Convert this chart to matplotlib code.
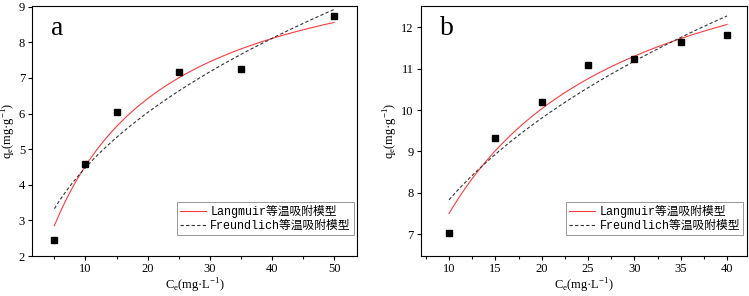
import numpy as np
import matplotlib
matplotlib.use("Agg")
import matplotlib.pyplot as plt
from matplotlib.ticker import MultipleLocator

plt.rcParams['font.family'] = ['Liberation Serif', 'Noto Sans CJK SC']
plt.rcParams['mathtext.fontset'] = 'custom'
plt.rcParams['mathtext.rm'] = 'Liberation Serif'

# panel a: measured points
ce_a = [5, 10, 15, 25, 35, 50]
qe_a = [2.45, 4.57, 6.05, 7.17, 7.25, 8.73]
# panel b: measured points
ce_b = [10, 15, 20, 25, 30, 35, 40]
qe_b = [7.03, 9.33, 10.19, 11.10, 11.24, 11.64, 11.81]

# isotherm parameters (qm, KL) and (Kf, 1/n)
lang_a = (11.0, 0.07)
freu_a = (1.672, 0.428)
lang_b = (15.15, 0.098)
freu_b = (3.709, 0.3245)

labels = ['Langmuir等温吸附模型', 'Freundlich等温吸附模型']

fig = plt.figure(figsize=(7.49, 2.96), dpi=100)
ax1 = fig.add_axes([0.0427, 0.135, 0.434, 0.845])
ax2 = fig.add_axes([0.5617, 0.135, 0.435, 0.845])


def draw(ax, ce, qe, lang, freu, tag, xlim, ylim, xmaj, xmin, ylab_x):
    c = np.linspace(min(ce), max(ce), 200)
    qm, kl = lang
    kf, inv_n = freu
    ax.plot(c, qm * kl * c / (1 + kl * c), color='#ff3c3c', lw=0.8, label=labels[0])
    ax.plot(c, kf * c ** inv_n, color='#333333', lw=0.8, ls=(0, (3, 2)), label=labels[1])
    ax.plot(ce, qe, 's', color='black', ms=5, zorder=3)
    ax.set_xlim(*xlim)
    ax.set_ylim(*ylim)
    ax.xaxis.set_major_locator(MultipleLocator(xmaj))
    ax.xaxis.set_minor_locator(MultipleLocator(xmin))
    ax.yaxis.set_major_locator(MultipleLocator(1))
    ax.tick_params(direction='out', length=3, width=0.8, labelsize=9, pad=2)
    ax.tick_params(axis='x', which='minor', direction='out', length=2, width=0.8)
    for s in ax.spines.values():
        s.set_linewidth(0.8)
    ax.set_xlabel(r'C$_\mathregular{e}$(mg·L$^\mathregular{-1}$)', fontsize=9, labelpad=1)
    ax.set_ylabel(r'q$_\mathregular{e}$(mg·g$^\mathregular{-1}$)', fontsize=9)
    ax.yaxis.set_label_coords(ylab_x, 0.5)
    ax.text(0.06, 0.91, tag, transform=ax.transAxes, fontsize=20, ha='left', va='center')
    leg = ax.legend(loc='lower right', bbox_to_anchor=(0.99, 0.085),
                    prop={'family': ['Liberation Mono', 'Noto Sans CJK SC'], 'size': 8.5},
                    frameon=True, fancybox=False, edgecolor='#888888', framealpha=1,
                    handlelength=2.2, borderpad=0.25, labelspacing=0.15, handletextpad=0.4,
                    borderaxespad=0)
    leg.get_frame().set_linewidth(0.6)


draw(ax1, ce_a, qe_a, lang_a, freu_a, 'a', (1.4, 53.7), (2, 9.02), 10, 5, -0.042)
draw(ax2, ce_b, qe_b, lang_b, freu_b, 'b', (6.95, 42.1), (6.47, 12.52), 5, 2.5, -0.063)

fig.savefig('out.png', dpi=100)
